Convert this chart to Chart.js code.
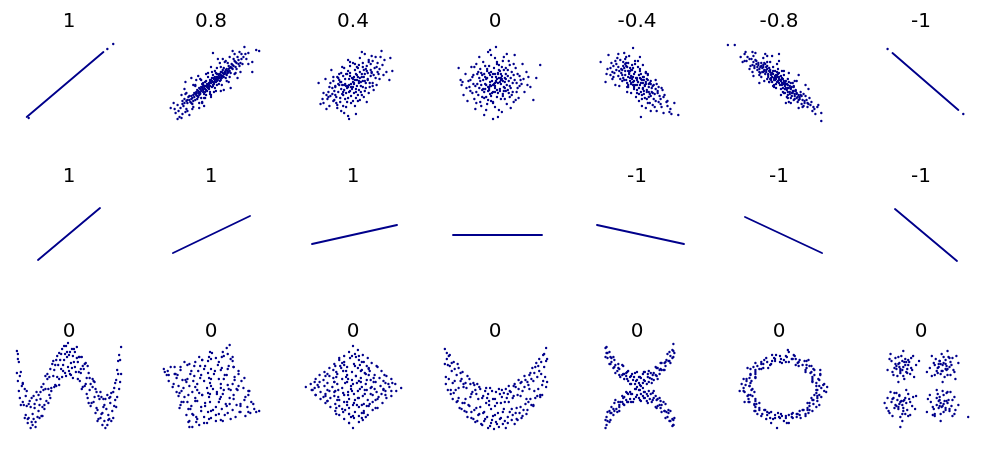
<!DOCTYPE html>
<html><head><meta charset="utf-8">
<script src="https://cdn.jsdelivr.net/npm/chart.js@4.4.0/dist/chart.umd.min.js"></script>
<style>
html,body{margin:0;padding:0;background:#fff;width:995px;height:452px;overflow:hidden;position:relative}
.cell{position:absolute;width:142px;height:155px}
canvas{display:block}
</style></head><body>
<script>
// ---- titles (correlation coefficients) ----
const titlesRow1 = ['1','0.8','0.4','0','-0.4','-0.8','-1'];
const titlesRow2 = ['1','1','1','','-1','-1','-1'];
const titlesRow3 = ['0','0','0','0','0','0','0'];

// ---- row 1 ----
const r1Line1 = [-4.3,-3.4, 3.5,3.1];
const r1Line1Dots = [3.9,3.4, 4.5,3.9, -4.1,-3.5];
const r1Cloud08 = [-0.2,-0.1,0.3,0.4,-0.6,-0.3,0.8,0.5,-1.1,-1.0,1.2,0.7,0.1,-0.4,-0.4,-0.8,0.5,0.1,-0.9,-0.4,1.5,1.3,-1.4,-1.3,0.9,0.9,-0.1,0.3,0.6,-0.2,-0.7,-1.1,1.9,1.2,-1.8,-1.2,2.2,1.8,-2.1,-1.9,0.2,0.8,-0.3,-0.2,1.0,0.3,-1.2,-0.5,1.6,0.8,-1.6,-1.7,2.5,1.6,-2.4,-2.0,0.4,-0.5,-0.5,0.2,1.3,1.5,-1.0,-1.5,2.8,2.3,-2.7,-1.6,0.0,0.0,0.7,0.9,-0.8,-0.9,1.1,1.1,-1.3,-0.8,1.8,1.7,-1.9,-2.1,2.0,1.0,-2.2,-1.3,3.0,2.0,-3.1,-2.5,0.3,-0.1,-0.2,-0.6,0.9,0.2,-0.6,0.1,1.4,0.9,-1.5,-0.9,2.4,2.2,-2.5,-2.6,3.3,2.6,-3.4,-2.2,0.1,0.5,-0.9,-0.1,1.7,1.0,-1.7,-1.0,2.6,1.4,-2.0,-1.6,3.5,2.9,-3.6,-3.0,0.6,0.6,-0.4,-0.4,1.2,1.3,-1.1,-0.6,2.1,1.5,-2.3,-1.4,0.5,1.0,-0.1,-0.9,1.5,0.5,-1.4,-1.6,2.9,1.7,-2.8,-2.3,4.2,2.1,4.6,3.3,4.9,3.2,4.2,1.1,-4.1,-2.5,-3.0,-3.5,-3.2,-3.4,3.8,3.0,3.1,2.9,-2.6,-1.1,2.3,2.4,1.0,1.6,-0.7,-1.5,0.8,-0.1,-0.3,0.6,1.9,0.6,-1.8,-2.4,2.7,2.6,-3.7,-2.6,0.2,-0.3,-1.2,-2.0,3.6,2.4,-0.5,-1.2,1.7,2.0,-2.9,-1.8,0.4,1.2,-0.8,0.0,1.4,2.1,-1.6,-0.3,2.4,0.9,-2.6,-2.9,3.2,1.9,0.0,-1.2,-0.9,-2.0];
const r1Cloud08b = [0.2,0.1,-0.1,-0.3,0.4,0.6,-0.5,-0.7,0.7,0.3,-0.8,-0.2,1.0,0.8,-1.0,-0.4,0.3,0.0,-0.3,-0.5,0.6,0.9,-0.6,-0.9,1.1,0.5,-1.2,-1.2,1.4,1.1,-1.4,-0.7,0.1,0.2,-0.2,0.0,0.8,0.8,-0.9,-0.6,1.6,1.4,-1.7,-1.4,1.3,0.6,-1.3,-1.0,2.0,1.6,-2.0,-1.3,0.5,0.4,-0.4,-0.1,0.9,0.5,-0.7,-0.5,1.8,1.4,-1.9,-1.5,2.3,1.7,-2.2,-1.7,0.0,0.3,0.6,0.2,-0.6,-0.6,1.2,1.0,-1.1,-1.1,1.5,1.0,-1.5,-1.2,2.6,2.0,-2.5,-1.8,0.4,0.2,-0.3,-0.3,1.0,1.1,-1.0,-0.8,1.7,1.2,-1.6,-1.1,2.1,1.9,-2.4,-1.7,0.2,-0.2,-0.1,0.1,0.7,0.6,-0.8,-0.7,1.3,0.9,-1.3,-1.4,1.9,1.5,-2.0,-2.0,2.8,1.9,-2.9,-2.1,0.9,0.6,-0.5,-0.3,1.1,0.7,-1.2,-0.9,2.2,1.4,-1.8,-1.8,3.1,2.4,-3.3,-2.8,0.3,0.5,-0.2,-0.4,1.5,1.2,-1.5,-1.0,2.5,2.1,-2.7,-2.0,0.6,0.4,-0.7,-0.3,1.8,1.1];
const r1Cloud08c = [-2.6,0.1,0.2,3.0,-1.5,0.3,1.0,-0.8,-0.5,0.9,0.5,-0.8,1.8,0.1,-1.8,-0.2,2.4,2.9,-2.4,-2.8,0.0,1.6,0.0,-1.4,1.2,2.4,-1.2,-2.5,3.0,1.1,-3.0,-1.2,0.7,2.4,-0.7,-2.3,2.0,-0.5,-2.0,0.5,1.5,2.2,-1.0,0.3,0.3,-0.9,-0.3,1.0,2.7,0.5,-2.7,-0.6,1.6,0.2,-1.6,-0.2,0.9,2.0,-0.9,-1.9,3.4,3.6,-3.4,-3.6,2.2,3.2,-2.2,-3.2,0.1,1.1,-0.1,-1.1,1.3,-0.7,-1.3,0.7,2.9,3.1,-2.9,-3.1,0.6,1.5,-0.6,-1.5,1.9,2.6,-1.9,-2.6,3.8,1.9,-3.8,-2.0,1.1,-0.2,-1.1,0.4,2.5,1.0,-2.5,-1.0];
const r1Cloud04 = [0.0,0.1,0.5,0.6,-0.5,-0.4,1.0,0.2,-1.0,-0.9,0.3,-0.6,-0.3,0.7,1.4,1.2,-1.4,-0.2,0.8,-0.3,-0.8,0.4,1.8,0.7,-1.8,-1.2,0.2,1.3,-0.2,-1.3,2.2,1.5,-2.1,-0.5,1.2,-0.8,-1.2,1.0,0.6,1.8,-0.6,-1.9,2.6,0.9,-2.6,-1.6,1.6,2.1,-1.6,0.6,0.1,-0.1,0.9,0.9,-0.9,-0.7,1.3,0.0,-1.3,-1.5,0.4,0.3,-0.4,-0.2,2.0,2.2,-2.0,0.2,1.1,-1.4,-1.1,1.6,3.0,1.8,-3.0,-1.0,0.7,2.5,-0.7,-2.4,2.4,-0.2,-2.4,-2.3,1.9,1.0,-1.9,-0.8,0.0,2.0,0.0,-1.8,1.5,0.4,-1.5,-0.1,0.3,0.9,-0.3,-0.8,2.8,2.6,-2.8,0.4,1.7,-0.4,-1.7,-2.0,0.5,-1.2,-0.5,1.2,1.0,1.6,-1.0,-1.2,2.3,0.5,-2.3,-1.3,3.4,1.1,-3.3,-2.1,1.2,2.9,-1.2,-2.8,3.7,0.3,-3.5,0.0,0.9,3.1,-0.4,-3.6,4.0,1.2,2.9,3.2,-2.2,1.3,0.2,-2.3,-0.1,0.5,0.6,0.0,-0.6,-0.3,1.3,1.4,-1.3,0.1,0.8,-0.9,-0.8,-1.6,1.8,1.9,-1.8,-0.4,2.1,-0.7,-2.5,-0.9,0.4,1.6,-0.2,-0.4,1.6,-1.0,-1.4,0.9,2.7,1.4,-2.7,-2.6,0.1,-1.0,3.2,2.3,-3.1,-1.6,1.9,2.7,-0.9,-3.0,0.7,-1.7,-0.7,0.9,2.5,2.0,-1.6,-2.5,1.1,0.6,-1.1,-0.2,3.8,2.5,-0.3,2.1,0.3,-3.1,-2.0,-1.8,1.4,-1.9,2.0,0.0,-0.5,-3.3];
const r1Cloud04b = [0.2,0.3,-0.2,-0.1,0.6,0.2,-0.6,-0.5,0.1,0.6,-0.1,-0.6,0.9,0.6,-0.9,-0.2,0.4,-0.3,-0.4,0.4,1.2,0.9,-1.2,-0.6,0.7,1.1,-0.7,-1.0,1.5,0.3,-1.5,-0.9,0.3,-0.9,-0.3,1.0,1.8,1.3,-1.8,-0.3,1.0,-0.4,-1.0,0.7,0.5,1.5,-0.5,-1.5,2.1,0.8,-2.1,-1.1,1.4,1.7,-1.4,0.3,0.0,0.4,0.0,-0.4,0.8,0.1,-0.8,-0.1,1.1,1.3,-1.1,-1.1,1.7,0.0,-1.7,-1.4,0.6,-0.7,-0.6,0.9,2.4,1.6,-2.4,-0.4,1.3,-0.5,-1.3,-1.9,0.2,1.9,-0.2,-2.0,2.0,-0.3,-2.0,0.6,1.6,2.3,-1.6,-2.2,0.9,-1.2,-0.9,1.5,2.7,0.4,-2.7,-1.2,0.4,0.8,-0.4,-0.9,1.2,0.2,-1.2,0.1,1.9,1.1,-1.9,-1.7,0.3,-1.5,-0.3,1.7,2.3,2.6,-2.3,0.0,1.0,2.0,-1.0,-2.3,3.1,0.8,-3.0,-2.0,0.1,0.0,0.7,0.5,-0.7,-0.3,1.5,1.0,-1.5,0.5,2.5,1.1,-2.5,-1.4,0.5,-1.8,-0.5,2.3];
const r1Cloud0 = [0.1,0.2,-0.4,-0.3,0.6,-0.1,-0.8,0.5,0.3,0.9,-0.2,-0.9,1.1,0.4,-1.2,-0.6,0.9,-0.8,-0.6,1.0,1.5,-0.3,-1.5,0.2,0.2,-1.4,-0.1,1.5,1.9,0.8,-1.9,-0.9,0.7,1.6,-0.7,-1.7,2.3,-0.5,-2.3,0.6,1.3,1.3,-1.3,-1.4,0.0,0.0,0.4,0.5,-0.5,0.1,0.8,0.2,-0.9,-0.2,1.7,-1.2,-1.7,1.1,0.5,-0.6,-0.3,0.6,2.6,0.3,-2.6,-0.4,1.0,-1.6,-1.0,1.7,0.2,2.1,-0.2,-2.0,2.1,1.5,-2.1,-1.6,3.0,-0.9,-3.0,0.9,1.4,2.2,-1.4,-2.3,0.6,0.9,-0.6,-0.7,1.2,-0.2,-1.2,0.3,2.4,-1.5,-2.4,1.6,0.9,2.6,-0.9,-2.7,3.4,0.6,-3.4,-0.2,1.8,0.0,-1.8,-0.1,0.3,-1.0,-0.4,1.1,2.8,1.9,-2.8,-1.8,0.1,3.6,-0.2,-3.6,4.6,1.8,-3.7,1.5,3.9,-1.7,1.6,-2.5,-1.6,2.6,0.7,-2.9,-0.7,3.1,2.0,2.8,-2.0,-2.6,0.0,-0.5,0.5,1.2,-0.5,-1.1,1.1,0.9,-1.1,-0.9,1.6,0.5,-1.6,-0.5,0.2,0.4,-0.2,-0.2,2.2,-0.9,-2.2,0.8,1.0,-0.5,-1.0,0.6,0.4,1.8,-0.4,-1.8,2.7,-0.1,-2.7,0.2,1.5,1.8,-1.5,-1.9,0.8,-1.3,-0.8,1.4,3.2,1.1,-3.2,-1.2,0.0,2.5,0.0,-2.4,2.5,0.7,-2.5,-0.8,1.9,-1.9,-1.9,1.9,0.6,0.3,-0.6,-0.4,1.3,-0.7,-1.3,0.8,3.6,-0.4,-3.5,0.3,1.2,2.9,-1.1,-3.2,4.2,0.5,-0.5,3.3,0.3,-3.4];
const r1Cloud0b = [0.3,0.0,-0.3,0.2,0.0,-0.3,0.1,0.6,0.7,0.4,-0.7,-0.4,0.5,-0.8,-0.5,0.8,1.0,0.1,-1.0,-0.1,0.2,-0.7,-0.2,0.9,1.3,0.7,-1.3,-0.7,0.8,-1.1,-0.8,1.2,1.6,-0.5,-1.6,0.5,0.4,1.3,-0.4,-1.3,2.0,0.3,-2.0,-0.3,1.1,1.5,-1.1,-1.5,0.6,-1.6,-0.6,1.7,2.3,0.9,-2.3,-1.0,1.5,-1.4,-1.5,1.4,0.1,0.1,-0.1,-0.1,0.9,-0.4,-0.9,0.4,0.3,1.0,-0.3,-1.0,1.4,0.2,-1.4,-0.2,0.7,0.7,-0.7,-0.8,1.8,-0.9,-1.8,0.9,0.2,1.9,-0.2,-1.9,2.5,-0.3,-2.5,0.3,1.2,-2.1,-1.2,2.1,2.9,0.4,-2.9,-0.5,0.5,0.1,-0.5,-0.2,0.0,0.9,0.0,-0.9,1.1,-0.8,-1.1,0.9,1.7,1.1,-1.7,-1.2,0.8,2.2,-0.8,-2.1,2.1,-1.7,-2.1,1.6,3.3,-0.2,-3.3,0.1,0.4,-2.7,-0.4,2.8,1.9,1.9,-1.9,-2.0,0.6,0.5,-0.6,-0.5,1.0,0.5,-1.0,-0.6,1.4,-1.0,-1.4,1.0,2.2,0.0,-2.2,-0.1,0.9,1.3,-0.9,-1.4];
const r1CloudM04 = [0.0,0.3,0.4,0.0,-0.4,0.6,0.8,-0.2,-0.8,0.9,0.2,-0.5,-0.2,1.1,1.2,-0.4,-1.2,0.8,0.6,0.6,-0.6,-0.1,1.5,-0.9,-1.5,1.3,0.3,1.2,-0.3,-0.6,1.0,0.4,-1.0,0.0,1.9,-0.6,-1.9,1.6,0.5,-1.2,-0.5,1.8,2.3,-1.3,-2.3,1.0,1.4,0.2,-1.4,2.1,0.1,0.1,0.7,-0.8,-0.7,1.5,1.7,-1.6,-1.7,0.4,0.9,1.0,-0.9,-0.4,2.6,-0.7,-2.6,2.0,0.2,-1.8,-0.2,2.2,1.1,-2.0,-1.1,0.3,2.0,-0.1,-2.0,2.5,0.4,0.9,-0.4,-0.2,1.3,-1.1,-1.3,1.5,3.0,-1.9,-3.0,1.4,0.8,-1.5,-0.8,2.7,1.8,-2.4,-1.8,-0.3,0.6,1.8,-0.6,-1.0,2.4,-2.1,-2.4,0.6,3.4,-2.6,-3.2,0.1,3.5,-3.1,4.2,-3.2,0.4,-3.4,-0.4,3.5,-3.7,2.1,-2.9,2.8,0.0,-0.2,0.3,0.5,-0.3,0.2,0.9,-0.1,-0.9,1.2,1.6,-0.3,-1.6,1.0,0.7,0.3,-0.7,0.5,1.2,-1.4,-1.2,2.4,2.1,-1.0,-2.1,1.9,0.5,-2.3,-0.5,1.3,1.4,-2.8,-1.0,-0.9,2.8,-1.2,-2.5,1.1,0.1,1.6,0.0,-1.0,1.0,-0.9,-1.5,0.2,2.2,-1.9,-0.9,2.0,1.9,0.3,-2.7,0.8,3.1,-2.3,0.9,-2.5,-1.3,3.0,2.5,-0.5,-0.1,-1.4,1.6,-2.2,-1.9,2.9,0.6,-0.5,-0.6,0.0,1.1,0.8,-1.1,1.7,3.8,-2.0,2.0,-2.8,-2.2,-0.2,0.3,2.6,1.3,0.0,2.7,-3.0];
const r1CloudM04b = [0.1,0.1,-0.1,0.5,0.5,0.3,-0.5,0.4,0.3,-0.2,-0.3,0.9,0.9,0.1,-0.9,0.6,0.6,-0.6,-0.6,1.3,1.2,-0.1,-1.2,1.2,0.2,0.8,-0.2,-0.2,1.0,-0.7,-1.0,1.6,0.7,0.6,-0.7,0.2,1.5,-0.5,-1.5,0.8,0.4,-0.9,-0.4,1.5,1.8,-1.1,-1.8,1.2,1.1,0.3,-1.1,2.0,0.0,0.5,0.8,-0.3,-0.8,1.0,1.4,-1.3,-1.4,1.7,2.1,-0.8,-2.1,1.3,0.3,1.4,-0.3,-0.4,1.7,-0.2,-1.7,2.3,0.5,-1.6,-0.5,0.6,2.4,-1.6,-2.4,1.7,1.3,-2.0,-1.3,0.3,0.9,1.1,-0.9,-0.2,2.7,-1.4,-2.7,1.5,0.6,0.0,-0.6,0.7,1.2,-0.9,-1.2,1.9,1.9,-1.8,-1.9,0.7,0.2,-1.1,-0.2,1.9,2.2,-0.4,-2.2,2.2,1.0,-1.6,-1.0,-0.4,3.1,-1.8,-3.1,0.9,0.1,2.2,0.4,0.4,-0.4,0.1,1.6,-1.0,-1.6,1.4,0.7,-1.1,-0.7,1.2,2.5,-2.4,-2.5,0.4,1.1,0.9,-1.1,2.6,0.0,-0.7,1.4,-0.1,-1.4,0.5,3.3,-2.9];
const r1CloudM08 = [0.1,0.3,0.5,0.2,-0.3,0.4,0.9,-0.5,-0.7,1.0,0.3,-0.2,-0.1,0.9,1.3,-0.4,-1.3,1.1,0.7,0.2,-0.5,0.3,1.6,-1.1,-1.6,1.8,0.2,0.7,-0.2,0.1,1.1,-0.9,-1.1,0.6,2.0,-1.2,-2.0,1.4,0.4,-0.5,-0.4,1.2,2.4,-1.7,-2.4,2.3,1.5,-0.3,-1.5,1.2,0.0,0.0,0.8,-0.7,-0.8,0.5,1.8,-1.5,-1.8,2.0,1.0,0.1,-1.0,1.5,2.7,-1.3,-2.7,1.8,0.6,-1.0,-0.6,1.6,1.2,-1.5,-1.2,0.4,2.2,-0.9,-2.2,1.6,0.5,0.8,-0.5,-0.2,1.4,-0.8,-1.4,1.9,3.0,-2.1,-3.0,2.4,0.9,-1.2,-0.9,1.3,1.9,-1.9,-1.9,1.0,0.7,-0.1,-0.7,0.1,2.5,-1.1,-2.5,1.5,3.3,-1.9,-3.3,2.2,3.6,-2.6,-3.5,2.9,4.3,-3.8,4.3,-3.0,3.9,-2.4,-5.2,3.8,-4.5,3.8,-3.4,3.1,-2.7,3.1,-1.4,2.9,0.0,2.9,-3.7,2.1,0.2,0.2,0.6,-0.6,-0.2,0.8,1.1,-0.3,-1.1,0.9,1.7,-0.8,-1.7,1.5,0.3,0.5,-0.3,-0.1,1.3,-1.3,-1.3,1.6,2.1,-1.6,-2.1,2.0,0.8,-0.1,-0.8,0.9,2.9,-2.4,-2.9,1.7,1.6,-1.6,-1.6,1.1,0.4,-0.9,-0.4,0.6,2.3,-2.1,-2.3,1.9,3.1,-1.5,-2.6,2.7,1.0,-1.9,-1.0,0.1,0.0,0.6,1.8,-1.0,-1.2,1.7,2.6,-2.0,-0.6,-0.3,1.4,0.0,3.7,-3.1,-3.9,2.6,0.9,0.4,2.0,-2.5,-2.0,0.8,-0.1,1.4,1.2,-0.5,4.0,-2.2,3.4,-2.8];
const r1CloudM08b = [0.0,0.4,0.4,0.0,-0.4,0.7,0.8,-0.1,-0.8,0.8,0.2,0.3,-0.2,0.6,1.2,-0.6,-1.2,1.4,0.6,-0.3,-0.6,0.9,1.5,-0.8,-1.5,1.3,0.3,0.0,-0.3,0.8,1.0,-0.5,-1.0,1.2,1.8,-1.1,-1.8,1.7,0.5,-0.1,-0.5,0.5,2.1,-1.4,-2.1,1.8,0.9,-0.2,-0.9,1.1,1.4,-1.0,-1.4,0.9,2.3,-1.3,-2.3,2.2,0.1,-0.2,-0.1,0.2,0.7,-0.5,-0.7,0.6,1.1,-1.1,-1.1,0.8,1.7,-0.7,-1.7,1.1,2.6,-1.8,-2.6,2.1,0.4,0.4,-0.4,0.3,1.3,-1.0,-1.3,1.3,1.9,-1.4,-1.9,1.6,2.8,-1.7,-2.8,2.4,0.6,0.0,-0.6,1.2,1.6,-1.3,-1.6,1.6,2.2,-1.2,-2.2,1.3,0.9,-0.9,-0.9,0.4,3.2,-2.2,-3.2,2.6,0.2,-0.6,-0.2,1.1,1.5,-0.4,-1.5,2.0,2.0,-1.7,-2.0,1.1,0.8,-1.4,-0.8,0.3,2.5,-2.3,-2.5,1.7,3.5,-2.4,-3.5,2.2,1.2,0.0,-1.2,2.1,2.9,-2.0,0.0,1.0,0.5,-1.0];
const r1CloudM08c = [-2.6,0.7,0.0,2.2,-1.5,0.2,1.0,1.0,-0.5,-0.4,0.5,1.2,1.8,0.2,-1.8,0.6,2.4,-2.4,-2.4,3.0,0.2,-1.2,-0.2,1.9,1.2,-2.0,-1.2,2.7,3.0,-0.6,-3.0,1.4,0.7,-2.0,-0.7,2.7,2.0,0.8,-2.0,0.0,1.5,-1.7,-1.0,0.1,0.3,1.2,-0.3,-0.5,2.7,-0.2,-2.7,1.1,1.6,0.2,-1.6,2.5,0.9,-1.5,-0.9,2.1];
const r1LineM1 = [-2.9,3.0, 3.8,-2.7];
const r1LineM1Dots = [-3.4,3.4, 4.3,-3.1];

// ---- row 2: straight lines (start x, start y, end x, end y) ----
const r2Line0 = [-3.1,-2.2, 3.1,3.0];
const r2Line1 = [-3.8,-1.5, 3.9,2.2];
const r2Line2 = [-4.1,-0.6, 4.4,1.3];
const r2Line3 = [-4.2,0.3, 4.7,0.3];
const r2Line4 = [-4.0,1.3, 4.7,-0.6];
const r2Line5 = [-3.4,2.1, 4.3,-1.5];
const r2Line6 = [-2.6,2.9, 3.6,-2.3];

// ---- row 3: non-linear relations ----
const r3Wave = [-5.3,4.2,-5.3,2.0,-5.2,3.9,-5.1,0.2,-5.0,1.7,-5.1,3.1,-4.8,0.7,-4.9,-1.2,-4.7,1.0,-4.6,-1.2,-4.5,0.4,-4.5,-2.5,-4.3,-1.3,-4.2,-2.6,-4.3,0.2,-4.0,-0.8,-4.1,-2.5,-3.9,-3.5,-3.7,-2.1,-3.8,-0.5,-3.7,-3.2,-3.5,-1.1,-3.4,-3.4,-3.5,-1.5,-3.2,-2.4,-3.3,0.1,-3.1,-1.8,-2.9,0.1,-3.0,-2.5,-2.9,-0.6,-2.7,-1.4,-2.6,0.9,-2.7,-2.3,-2.4,0.4,-2.5,-1.2,-2.4,1.7,-2.1,-1.0,-2.2,1.4,-2.1,0.4,-1.9,2.4,-1.8,0.5,-1.9,-0.5,-1.6,1.7,-1.6,3.2,-1.5,0.6,-1.3,0.7,-1.4,2.8,-1.3,3.3,-1.1,2.8,-1.0,0.8,-1.0,4.0,-0.8,2.4,-0.8,3.9,-0.7,1.6,-0.5,4.7,-0.6,2.2,-0.5,3.3,-0.3,1.7,-0.2,4.1,-0.3,4.7,0.0,3.8,0.0,2.2,-0.1,5.0,0.2,3.0,0.3,4.4,0.2,1.8,0.5,4.4,0.4,1.5,0.5,3.1,0.7,2.1,0.8,3.5,0.8,4.6,1.0,3.6,1.1,1.2,1.0,2.1,1.3,0.4,1.2,2.4,1.3,3.6,1.5,2.4,1.6,0.7,1.6,2.9,1.8,-0.1,1.9,2.7,1.8,1.5,2.1,1.5,2.0,-1.0,2.1,0.3,2.3,-1.0,2.4,1.4,2.4,0.6,2.6,1.1,2.7,-2.0,2.6,-0.4,2.9,-1.7,2.8,0.1,2.9,-2.8,3.1,-0.6,3.2,-2.5,3.2,0.1,3.4,-3.2,3.5,-1.4,3.4,-2.0,3.7,-0.6,3.7,-3.5,3.6,-1.2,4.0,-2.7,3.9,-0.2,4.0,-2.2,4.2,-1.0,4.3,-2.8,4.2,-0.4,4.5,-2.5,4.5,0.1,4.6,0.5,4.8,1.3,4.7,-0.7,4.8,-1.4,5.0,1.9,5.1,0.4,5.0,3.2,5.3,1.9,5.2,3.3,5.3,4.6];
const r3WaveB = [-5.2,1.2,-5.2,3.4,-4.9,2.1,-5.0,-0.5,-4.7,-0.9,-4.7,0.9,-4.4,-0.3,-4.4,-2.2,-4.1,-1.1,-4.2,-3.0,-3.9,-1.4,-3.8,-2.9,-3.6,-2.6,-3.6,-0.3,-3.3,-0.7,-3.4,-2.9,-3.1,-0.2,-3.0,-1.2,-2.8,-2.3,-2.8,0.6,-2.5,-1.6,-2.6,0.3,-2.3,-0.8,-2.2,1.9,-2.0,-0.2,-2.0,1.6,-1.7,2.9,-1.8,0.2,-1.5,2.3,-1.4,0.8,-1.2,1.6,-1.2,3.7,-0.9,3.3,-1.0,1.4,-0.7,4.4,-0.6,2.8,-0.4,2.0,-0.4,3.9,-0.1,2.6,-0.2,3.6,0.1,4.1,0.1,1.9,0.3,2.5,0.4,3.7,0.6,4.1,0.6,2.6,0.9,1.4,0.9,3.1,1.1,3.6,1.2,2.0,1.4,0.6,1.4,2.7,1.7,3.0,1.7,0.9,2.0,2.0,1.9,-0.5,2.2,0.9,2.2,-1.3,2.5,-0.9,2.5,1.2,2.8,-1.5,2.7,0.4,3.0,-0.3,3.0,-2.6,3.3,-2.1,3.3,-0.4,3.6,-2.8,3.5,-0.6,3.8,-1.6,3.9,-3.2,4.1,-0.5,4.1,-2.6,4.4,-1.8,4.3,0.0,4.6,-1.3,4.7,1.0,4.9,2.3,4.9,-0.4,5.2,1.1,5.1,3.8];
const r3Square = [-4.4,2.2,-4.1,2.6,-3.1,2.6,-2.7,3.1,-1.6,3.1,-1.2,3.6,-0.2,3.6,0.1,4.0,1.2,4.1,1.6,4.5,-4.5,1.8,-3.4,1.8,-3.1,2.3,-2.0,2.2,-1.7,2.7,-0.6,2.7,-0.3,3.2,0.8,3.1,1.1,3.6,2.2,3.6,-3.8,0.9,-3.5,1.5,-2.4,1.4,-2.1,1.9,-1.0,1.8,-0.7,2.4,0.4,2.2,0.7,2.8,1.8,2.7,2.2,3.2,-3.9,0.6,-2.8,0.5,-2.5,1.1,-1.4,0.9,-1.1,1.5,0.0,1.4,0.3,1.9,1.4,1.8,1.7,2.4,2.8,2.2,-3.3,-0.3,-3.0,0.2,-1.9,0.1,-1.6,0.6,-0.4,0.5,-0.1,1.0,1.0,0.9,1.3,1.4,2.4,1.3,2.8,1.9,-3.0,-0.9,-2.7,-0.4,-1.6,-0.5,-1.2,0.0,-0.1,-0.1,0.2,0.4,1.3,0.3,1.7,0.8,2.8,0.7,3.1,1.2,-3.1,-1.2,-2.0,-1.3,-1.6,-0.8,-0.6,-1.0,-0.2,-0.4,0.9,-0.6,1.2,-0.1,2.3,-0.2,2.7,0.3,3.8,0.2,-2.5,-2.2,-2.1,-1.6,-1.0,-1.8,-0.6,-1.3,0.5,-1.4,0.8,-0.9,1.9,-1.1,2.3,-0.6,3.4,-0.7,3.8,-0.2,-2.2,-2.8,-1.8,-2.2,-0.7,-2.4,-0.3,-1.9,0.8,-2.1,1.1,-1.6,2.2,-1.7,2.6,-1.2,3.7,-1.4,4.1,-0.9,-1.9,-3.4,-1.5,-2.9,-0.4,-3.0,0.0,-2.5,1.0,-2.7,1.4,-2.2,2.5,-2.4,2.9,-1.9,4.0,-2.0,4.4,-1.6,-3.7,1.9,-2.2,2.9,-0.9,3.3,0.5,3.5,1.7,3.9,-4.7,2.1,-3.2,0.0,-1.8,1.2,-0.3,2.0,1.0,2.3,2.3,2.6,-2.4,-0.9,-0.9,-0.2,0.6,0.1,2.0,0.3,3.3,0.5,-1.4,-2.6,0.2,-1.7,1.6,-1.3,3.0,-1.1,4.6,-1.9,-1.2,-3.2,0.5,-2.8,2.0,-2.6,3.5,-2.3,-4.8,2.4,1.9,4.8,4.9,-1.8,-2.2,-3.4,-2.6,1.3];
const r3SquareB = [-3.3,0.7,-0.9,3.3,2.6,0.4,-1.0,-1.4,0.8,1.4,-2.3,-2.9,2.0,3.4,-0.3,0.0,-3.7,2.6,3.0,-1.9,-1.7,1.7,-2.8,-0.9,1.5,-1.1,2.4,1.6,-0.7,-3.0,-1.1,2.7,3.9,0.2,-1.4,0.3,-0.1,4.1,-1.9,-2.1,-0.2,1.5,3.0,-1.3,-4.3,1.2,0.5,-2.2,1.3,3.7,-1.4,-0.8,1.0,0.5,-3.5,0.1,1.2,-2.8,2.3,2.6,-2.4,2.8,-2.3,-0.2,1.0,-0.4,1.1,2.5,-2.3,-1.6,-1.3,2.2,4.3,-1.1,-2.2,0.7,1.9,-0.5,0.0,0.7,2.2,0.9,0.0,-1.8,-3.6,1.9,0.0,2.4,3.4,1.5,-0.2,-2.6,-4.3,1.8,1.8,0.4,-0.1,-0.9,3.8,-1.9,-2.9,1.3,1.7,-2.0,-3.2,-1.5,0.0,3.4,-0.9,-0.2,3.5,-0.4,-0.7,1.2,-1.5,-2.4,1.6,1.8,0.6,-0.1];
const r3Diamond = [0.0,4.7,-0.4,4.1,0.5,4.3,-0.9,3.7,0.2,3.9,1.0,3.8,-1.4,3.3,-0.3,3.5,0.6,3.3,1.5,3.5,-1.9,2.9,-0.9,3.1,0.1,2.9,0.9,3.1,1.9,3.0,-2.4,2.5,-1.3,2.7,-0.6,2.6,0.5,2.5,1.4,2.7,2.5,2.6,-2.9,2.1,-2.0,2.3,-1.0,2.2,-0.1,2.1,0.9,2.3,1.7,2.2,2.9,2.2,-3.4,1.8,-2.4,1.7,-1.6,1.9,-0.6,1.8,0.3,1.7,1.3,1.9,2.2,1.8,3.4,1.7,-3.8,1.4,-3.0,1.3,-2.0,1.5,-1.1,1.4,-0.1,1.3,0.8,1.5,1.8,1.3,2.7,1.5,3.9,1.4,-4.3,0.9,-3.4,1.1,-2.6,1.0,-1.6,0.9,-0.6,1.1,0.4,1.0,1.3,0.9,2.3,1.1,3.3,1.0,4.3,0.9,-4.8,0.6,-3.9,0.5,-2.9,0.7,-2.1,0.6,-1.1,0.5,-0.2,0.7,0.9,0.6,1.8,0.5,2.8,0.7,3.7,0.6,4.9,0.5,-4.2,0.3,-3.3,0.1,-2.4,0.2,-1.5,0.3,-0.5,0.1,0.5,0.2,1.4,0.3,2.4,0.1,3.3,0.2,4.4,0.2,-3.8,-0.2,-2.8,-0.1,-1.9,-0.3,-0.9,-0.2,0.1,-0.1,1.0,-0.3,2.0,-0.2,2.9,-0.1,3.9,-0.3,-3.3,-0.6,-2.3,-0.5,-1.4,-0.7,-0.4,-0.6,0.6,-0.5,1.5,-0.7,2.5,-0.6,3.4,-0.5,-2.8,-1.0,-1.8,-1.1,-0.9,-0.9,0.1,-1.0,1.1,-1.1,2.0,-0.9,3.0,-1.0,-2.3,-1.4,-1.4,-1.3,-0.4,-1.5,0.6,-1.4,1.6,-1.3,2.5,-1.5,-1.8,-1.8,-0.8,-1.7,0.2,-1.9,1.1,-1.8,2.0,-1.7,-1.4,-2.2,-0.4,-2.1,0.6,-2.3,1.5,-2.2,-0.9,-2.6,0.1,-2.5,1.0,-2.7,-0.4,-3.0,0.6,-2.9,0.0,-3.5,-2.6,1.9,-1.2,2.5,0.3,3.6,1.2,2.0,2.1,1.1,3.6,0.9,-3.6,0.8,-1.8,0.2,-0.2,0.4,1.2,-0.1,2.6,-0.4,-2.6,-0.8,-1.1,-1.6,0.4,-1.2,1.7,-1.1,-0.2,-2.4,0.9,-2.0,-0.7,1.6,0.6,1.2,-1.5,-0.4,2.2,0.4,-0.9,2.8,0.7,2.8,-3.0,-0.4,3.1,0.3,-1.9,1.1,1.6,2.5,0.2,-0.7,-0.6,-1.2,1.3,-2.4];
const r3DiamondB = [-2.8,-0.3,-1.8,2.7,2.1,1.5,0.0,-1.2,0.3,1.7,-0.4,-3.0,0.6,3.7,-0.1,0.2,-3.9,1.1,3.3,-0.2,-1.9,1.1,-1.7,-1.5,1.8,-0.1,1.6,2.4,0.9,-2.5,-1.7,2.1,3.2,1.8,-1.0,0.0,-1.4,3.5,-0.4,-2.1,-0.5,1.4,3.1,0.4,-3.8,-0.2,1.4,-1.3,-0.1,3.7,-0.6,-0.9,0.8,1.1,-2.6,-0.8,2.3,-1.5,1.1,3.1,-2.8,1.7,-1.6,-0.7,1.2,0.3,0.2,2.7,-1.0,-1.9,-1.7,1.6,4.0,1.0,-1.9,0.1,1.9,0.6,0.0,0.9,1.6,1.8,0.9,-1.2,-3.5,0.6,-0.7,2.2,2.4,2.7,1.1,-2.0,-4.1,0.3,1.4,1.3,0.5,-0.5,3.9,0.2,-2.6,0.3,2.3,-0.7,-1.7,-2.1,-1.1,3.0,-0.5,-0.2,3.1,1.2,-0.8,1.0,0.0,-2.3,0.8,2.2,0.7,0.4];
const r3Parabola = [-5.1,4.4,-5.0,1.6,-5.1,2.9,-4.8,0.3,-4.9,3.4,-4.8,2.8,-4.6,2.7,-4.5,0.3,-4.6,3.8,-4.3,1.0,-4.4,3.0,-4.3,-0.6,-4.1,2.4,-4.0,0.3,-4.1,1.2,-3.8,-0.8,-3.8,2.9,-3.7,0.5,-3.5,1.2,-3.6,-1.5,-3.5,2.0,-3.3,-1.0,-3.2,0.6,-3.3,2.1,-3.0,1.0,-3.1,-1.8,-3.0,-0.6,-2.8,1.7,-2.7,-1.2,-2.8,-2.4,-2.5,-0.4,-2.5,0.9,-2.4,-1.9,-2.2,-2.6,-2.3,0.1,-2.2,1.0,-2.0,0.3,-1.9,-1.5,-2.0,-2.9,-1.7,-2.2,-1.8,0.9,-1.7,-0.6,-1.5,0.4,-1.4,-3.1,-1.5,-1.4,-1.2,-2.0,-1.2,-0.3,-1.1,-2.8,-0.9,0.5,-1.0,-2.6,-0.9,-1.0,-0.7,-3.5,-0.6,-0.8,-0.7,-0.1,-0.4,-1.6,-0.4,-3.0,-0.5,0.5,-0.2,-0.6,-0.1,-3.6,-0.2,-2.3,0.1,-2.9,0.1,0.1,0.0,-1.3,0.4,0.4,0.3,-2.0,0.4,-3.4,0.6,-2.5,0.7,-0.4,0.6,-1.0,0.9,0.0,0.8,-3.1,0.9,-1.6,1.1,-3.5,1.2,-0.5,1.1,0.4,1.4,-0.9,1.3,-2.4,1.4,0.7,1.7,-2.7,1.6,0.1,1.7,-1.6,1.9,0.7,2.0,-3.1,1.9,-0.3,2.2,-1.5,2.1,0.6,2.2,-2.6,2.4,0.4,2.5,-2.0,2.4,1.3,2.7,-2.5,2.6,-0.3,2.7,1.1,3.0,0.6,2.9,-1.7,3.0,1.7,3.2,-2.1,3.3,1.1,3.2,-0.6,3.5,1.8,3.4,-0.9,3.5,0.4,3.7,-1.2,3.8,2.5,3.7,1.4,4.0,2.0,3.9,-1.2,4.0,0.2,4.3,-0.3,4.2,3.0,4.3,1.6,4.5,3.4,4.6,-0.4,4.5,2.2,4.8,0.8,4.7,3.1,4.8,-0.2,5.0,3.9,5.1,1.6,5.0,2.6,5.3,1.1,5.2,4.5,5.3,3.4];
const r3ParabolaB = [-5.0,0.9,-4.9,4.0,-4.7,1.4,-4.7,3.7,-4.4,2.2,-4.5,-0.1,-4.2,3.1,-4.2,0.0,-3.9,1.8,-3.9,-0.9,-3.7,2.5,-3.7,-0.5,-3.4,-1.6,-3.4,1.4,-3.2,0.9,-3.1,-1.0,-2.9,-1.9,-2.9,0.5,-2.6,1.4,-2.6,-1.3,-2.4,-0.1,-2.4,-2.5,-2.1,-1.7,-2.1,0.8,-1.9,-0.1,-1.8,-2.8,-1.6,-2.1,-1.6,0.6,-1.3,-0.5,-1.3,-3.2,-1.1,-1.9,-1.0,0.2,-0.8,-2.4,-0.8,-0.5,-0.6,-1.2,-0.5,-3.3,-0.3,0.2,-0.3,-2.7,0.0,-0.6,0.0,-2.2,0.2,-3.1,0.2,-1.0,0.5,-0.1,0.5,-2.6,0.8,-1.9,0.7,0.3,1.0,-2.8,1.0,-0.9,1.3,-0.1,1.3,-3.0,1.5,-1.9,1.5,0.2,1.8,-2.2,1.8,-0.5,2.0,0.9,2.1,-2.0,2.3,-0.2,2.3,-2.7,2.6,-1.4,2.6,1.0,2.8,-2.3,2.8,0.2,3.1,1.3,3.1,-1.1,3.3,-1.7,3.4,0.8,3.6,2.0,3.6,-0.6,3.9,-1.3,3.9,1.2,4.1,2.6,4.1,-0.5,4.4,0.4,4.4,2.7,4.6,-0.2,4.7,1.9,4.9,3.8,4.9,1.2,5.2,0.6,5.2,3.2];
const r3Cross = [-3.2,3.6,-3.2,4.5,-3.0,4.0,-3.0,3.5,-2.8,4.1,-2.8,2.9,-2.6,3.1,-2.6,3.5,-2.4,2.5,-2.4,3.6,-2.2,2.8,-2.2,2.0,-1.9,2.9,-2.0,2.2,-1.7,1.6,-1.8,2.4,-1.5,2.8,-1.5,1.8,-1.3,1.9,-1.3,1.4,-1.1,2.0,-1.1,1.7,-0.9,1.2,-0.9,2.2,-0.7,1.6,-0.7,0.9,-0.5,1.9,-0.4,1.3,-0.2,0.9,-0.3,1.6,0.0,2.1,0.0,1.3,0.2,1.0,0.2,1.6,0.4,1.5,0.4,0.7,0.6,1.9,0.6,1.0,0.8,1.2,0.8,2.1,1.0,0.9,1.1,1.6,1.2,2.2,1.3,1.5,1.5,1.4,1.4,2.0,1.7,2.0,1.7,1.3,1.9,2.6,1.9,1.8,2.1,1.4,2.1,2.5,2.3,2.3,2.3,1.9,2.5,3.0,2.5,2.3,2.7,2.3,2.8,3.0,3.0,3.3,2.9,2.7,3.2,3.2,3.1,3.9,3.4,3.0,3.4,3.7,3.6,4.3,3.6,3.5,3.8,4.0,3.7,4.9,-3.2,-2.7,-3.2,-3.5,-3.0,-2.8,-3.0,-1.9,-2.8,-1.8,-2.8,-2.9,-2.6,-2.0,-2.6,-1.4,-2.4,-2.2,-2.4,-1.6,-2.2,-0.7,-2.1,-1.6,-2.0,-1.9,-1.9,-0.9,-1.7,-0.9,-1.8,-1.4,-1.5,-0.3,-1.5,-0.9,-1.3,-1.2,-1.3,-0.4,-1.1,-0.7,-1.1,0.1,-0.9,-0.1,-0.9,-0.9,-0.7,-0.6,-0.7,0.1,-0.5,-0.1,-0.4,-0.9,-0.3,-0.6,-0.2,0.4,0.0,-0.2,0.0,0.6,0.2,0.3,0.2,-0.5,0.4,-0.8,0.4,-0.1,0.6,0.5,0.6,-0.3,0.8,-0.5,0.8,0.1,1.0,-0.1,1.0,-0.8,1.2,0.2,1.3,-0.6,1.5,-0.9,1.4,-0.1,1.7,-0.5,1.7,0.2,1.9,-1.4,1.9,-0.3,2.1,-0.6,2.1,-1.3,2.3,-1.2,2.3,-0.5,2.5,-1.9,2.5,-1.2,2.7,-0.9,2.8,-1.8,3.0,-1.9,2.9,-2.5,3.2,-1.7,3.1,-2.4,3.4,-2.8,3.4,-1.8,3.6,-2.6,3.6,-3.3,3.8,-2.5,3.7,-3.2];
const r3CrossB = [-3.1,4.0,-3.1,4.6,-2.7,2.9,-2.7,3.6,-2.3,3.3,-2.3,2.6,-1.8,1.8,-1.9,2.5,-1.4,2.7,-1.4,1.9,-1.0,1.4,-1.0,2.1,-0.6,1.7,-0.6,0.9,-0.1,1.2,-0.2,2.0,0.3,1.6,0.3,0.8,0.7,1.3,0.7,2.1,1.1,1.9,1.2,1.1,1.6,1.8,1.5,1.0,2.0,1.7,2.0,2.5,2.4,3.0,2.4,2.4,2.8,2.3,2.9,3.1,3.3,3.2,3.3,4.1,3.7,4.2,3.7,3.6,-3.1,-2.4,-3.1,-3.2,-2.7,-2.7,-2.7,-2.0,-2.3,-1.0,-2.3,-1.8,-1.8,-1.2,-1.8,-1.8,-1.4,-0.5,-1.4,-1.1,-1.0,-0.9,-1.0,0.0,-0.6,-0.1,-0.6,-0.9,-0.1,-0.4,-0.1,0.4,0.3,0.3,0.3,-0.7,0.7,-0.5,0.7,0.1,1.1,-0.3,1.1,-1.0,1.6,0.0,1.6,-0.7,2.0,-1.5,2.0,-0.7,2.4,-0.8,2.4,-1.5,2.8,-1.8,2.9,-1.1,3.3,-2.8,3.2,-2.0,3.7,-2.7,3.7,-3.2];
const r3Ring = [3.8,0.3,4.3,0.5,4.1,0.7,4.6,0.9,3.8,1.0,3.4,1.1,4.0,1.4,3.4,1.4,4.2,1.8,3.6,1.8,4.2,2.3,3.2,2.0,3.5,2.4,2.7,2.1,3.3,2.7,2.8,2.5,2.8,2.8,3.0,3.3,2.6,3.2,2.0,2.7,2.0,3.1,1.7,2.8,1.7,3.4,1.6,3.7,1.3,3.4,1.0,3.1,1.0,4.1,0.7,3.7,0.5,3.3,0.3,3.0,0.1,3.1,-0.3,3.8,-0.4,3.4,-0.7,3.8,-0.7,3.2,-0.8,2.9,-1.2,3.1,-1.5,3.3,-1.1,2.5,-1.8,2.9,-1.6,2.5,-2.4,3.0,-2.0,2.4,-2.6,2.6,-2.4,2.3,-3.2,2.5,-2.4,1.9,-2.9,1.9,-2.4,1.5,-3.0,1.5,-3.3,1.4,-3.3,1.2,-2.9,1.0,-3.8,0.9,-3.0,0.7,-3.6,0.5,-2.7,0.4,-3.5,0.1,-2.5,0.1,-3.1,-0.2,-2.7,-0.3,-3.1,-0.6,-3.5,-0.9,-3.0,-0.9,-2.4,-0.8,-2.5,-1.1,-2.0,-1.0,-2.4,-1.4,-2.5,-1.8,-2.0,-1.7,-2.2,-2.1,-1.5,-1.7,-1.8,-2.3,-1.2,-1.9,-1.2,-2.2,-0.8,-1.9,-0.9,-2.5,-0.8,-3.0,-0.4,-2.5,-0.1,-2.0,0.0,-2.4,0.3,-2.3,0.5,-2.8,0.7,-2.5,1.0,-3.0,1.0,-2.2,1.3,-2.4,1.4,-2.0,1.8,-2.4,1.8,-2.1,2.1,-2.2,2.1,-1.8,2.7,-2.3,2.5,-1.7,3.0,-2.0,2.9,-1.7,3.4,-1.8,3.1,-1.3,2.9,-1.0,3.5,-1.1,4.1,-1.2,3.4,-0.7,3.3,-0.5,3.9,-0.5,4.3,-0.4,4.1,-0.2,3.8,0.0,4.8,0.1,-0.2,-3.5,4.9,0.6,-4.0,0.2,0.9,4.3];
const r3RingB = [3.8,0.7,4.5,0.8,4.1,1.3,3.4,1.2,3.4,1.6,4.2,1.9,3.6,2.3,3.3,2.1,2.7,2.3,3.1,2.7,2.8,3.2,2.4,2.8,1.9,3.0,2.1,3.3,1.4,3.4,1.5,3.8,0.7,3.1,0.8,3.6,0.1,3.7,0.2,3.4,-0.4,3.2,-0.5,3.5,-1.3,3.5,-0.9,2.8,-1.6,2.9,-1.8,3.1,-2.2,2.7,-1.8,2.4,-2.4,2.1,-2.9,2.4,-2.9,1.8,-2.4,1.6,-2.8,1.2,-3.6,1.4,-3.4,0.8,-3.0,0.7,-2.8,0.3,-3.6,0.2,-3.2,-0.3,-2.9,-0.2,-2.4,-0.6,-3.1,-0.9,-2.5,-1.2,-2.3,-1.1,-2.4,-1.8,-2.0,-1.5,-1.4,-1.7,-1.7,-2.1,-1.3,-2.6,-1.0,-2.0,-0.4,-2.2,-0.6,-2.6,0.1,-2.5,0.2,-2.1,0.7,-2.3,0.8,-3.0,1.4,-2.5,1.3,-2.1,1.9,-2.1,2.2,-2.5,2.7,-2.1,2.4,-1.7,2.9,-1.5,3.1,-1.7,3.8,-1.4,3.1,-1.0,3.5,-0.7,3.9,-0.8,3.9,-0.3,3.6,-0.2,3.9,0.3,4.6,0.2];
const r3Clusters = [-1.8,2.6,-2.3,2.9,-1.4,2.4,-2.1,2.0,-1.2,3.1,-2.7,2.5,-1.6,3.4,-2.4,1.7,-0.9,2.3,-3.0,3.2,-1.7,1.4,-2.0,3.7,-1.0,3.5,-2.8,1.8,-0.5,2.8,-3.4,2.3,-1.5,2.1,-2.2,3.0,-1.3,2.8,-2.5,2.7,-1.9,2.3,-1.7,3.1,-2.1,2.4,-0.7,1.6,-3.1,3.9,-1.1,1.9,-2.6,3.5,-1.8,4.2,-2.3,1.1,-0.2,3.2,2.2,2.8,2.7,2.4,1.8,2.9,2.5,3.3,1.6,2.2,3.1,2.8,2.0,1.9,2.8,3.6,1.3,3.0,3.4,2.1,2.1,3.9,2.4,1.6,1.4,1.8,3.2,3.5,0.9,2.5,3.8,3.0,1.9,3.2,2.6,2.3,1.7,2.5,2.9,2.6,2.3,3.0,2.1,2.2,2.5,2.9,1.1,3.7,3.5,1.4,1.5,3.4,3.0,1.8,2.2,1.1,2.7,4.2,0.6,2.1,-1.9,-1.2,-2.4,-0.7,-1.5,-1.0,-2.7,-1.5,-1.8,-1.8,-2.2,-0.3,-1.2,-0.6,-3.0,-0.9,-1.6,-2.1,-2.5,0.0,-0.9,-1.3,-3.3,-1.8,-2.1,-2.4,-1.3,-0.1,-3.1,0.1,-0.6,-1.6,-3.7,-1.0,-2.0,-0.8,-2.3,-1.4,-1.7,-0.7,-2.6,-1.2,-1.8,-1.5,-2.2,-1.1,-1.1,-2.2,-2.9,-2.3,-1.5,0.3,-3.4,-0.5,-1.9,-2.8,-0.5,-0.3,-2.8,-0.5,-2.1,-3.4,2.0,-1.0,2.5,-1.5,1.6,-1.2,2.8,-0.7,1.9,-0.4,2.3,-1.9,1.3,-1.6,3.1,-1.3,1.7,-0.1,2.6,0.0,1.0,-0.9,3.4,-0.4,2.2,0.2,1.4,-2.1,3.2,-2.3,0.7,-0.6,3.8,-1.2,2.1,-1.4,2.4,-0.8,1.8,-1.5,2.7,-1.0,1.9,-0.7,2.3,-1.1,1.2,-2.2,3.0,0.1,1.6,0.3,3.5,-1.7,2.0,-2.8,0.6,-1.9,2.9,-1.8,4.8,-2.4];
const r3ClustersB = [-1.6,2.8,-2.1,2.2,-1.3,3.3,-2.6,2.9,-1.8,1.7,-2.3,3.6,-1.0,2.5,-2.9,2.1,-1.5,3.1,-2.2,2.6,-1.9,3.2,-2.5,2.4,-1.4,2.0,-0.8,3.7,-3.2,3.4,2.0,2.9,2.5,2.4,1.7,2.0,3.0,3.1,2.3,3.6,2.7,1.8,1.4,2.8,3.3,2.3,1.9,3.2,2.6,2.7,2.2,2.2,2.9,3.5,1.8,2.6,1.1,1.7,3.6,3.7,-1.8,-0.8,-2.5,-1.3,-1.4,-1.7,-2.9,-0.6,-1.9,-2.1,-2.2,-0.2,-1.1,-0.9,-3.2,-2.0,-1.6,-0.5,-2.3,-1.6,-2.1,-0.9,-2.7,0.0,-1.3,-2.3,-0.8,-0.4,-3.5,-1.5,1.9,-1.3,2.6,-0.8,1.6,-0.5,2.9,-1.6,2.3,-0.2,2.0,-2.1,3.2,-0.7,1.2,-1.4,2.5,-1.7,1.8,-0.8,2.2,-1.3,2.7,0.1,1.4,-2.3,3.4,-2.1,0.9,-0.2];

// ---- table of panels built from the arrays above ----
const panels = [
  {r:0,c:0,t:titlesRow1[0],line:r1Line1,dots:r1Line1Dots},
  {r:0,c:1,t:titlesRow1[1],dots:r1Cloud08.concat(r1Cloud08b,r1Cloud08c)},
  {r:0,c:2,t:titlesRow1[2],dots:r1Cloud04.concat(r1Cloud04b)},
  {r:0,c:3,t:titlesRow1[3],dots:r1Cloud0.concat(r1Cloud0b)},
  {r:0,c:4,t:titlesRow1[4],dots:r1CloudM04.concat(r1CloudM04b)},
  {r:0,c:5,t:titlesRow1[5],dots:r1CloudM08.concat(r1CloudM08b,r1CloudM08c)},
  {r:0,c:6,t:titlesRow1[6],line:r1LineM1,dots:r1LineM1Dots},
  {r:1,c:0,t:titlesRow2[0],line:r2Line0},
  {r:1,c:1,t:titlesRow2[1],line:r2Line1},
  {r:1,c:2,t:titlesRow2[2],line:r2Line2},
  {r:1,c:3,t:titlesRow2[3],line:r2Line3},
  {r:1,c:4,t:titlesRow2[4],line:r2Line4},
  {r:1,c:5,t:titlesRow2[5],line:r2Line5},
  {r:1,c:6,t:titlesRow2[6],line:r2Line6},
  {r:2,c:0,t:titlesRow3[0],dots:r3Wave.concat(r3WaveB)},
  {r:2,c:1,t:titlesRow3[1],dots:r3Square.concat(r3SquareB)},
  {r:2,c:2,t:titlesRow3[2],dots:r3Diamond.concat(r3DiamondB)},
  {r:2,c:3,t:titlesRow3[3],dots:r3Parabola.concat(r3ParabolaB)},
  {r:2,c:4,t:titlesRow3[4],dots:r3Cross.concat(r3CrossB)},
  {r:2,c:5,t:titlesRow3[5],dots:r3Ring.concat(r3RingB)},
  {r:2,c:6,t:titlesRow3[6],dots:r3Clusters.concat(r3ClustersB)}
];

const COLOR = '#00008b';
function pairs(a){const out=[];for(let i=0;i+1<a.length;i+=2)out.push({x:a[i],y:a[i+1]});return out;}

panels.forEach(p=>{
  const div=document.createElement('div');
  div.className='cell';
  div.style.left=(142*p.c-2)+'px';
  div.style.top=(155*p.r)+'px';
  const cv=document.createElement('canvas');
  cv.width=142;cv.height=155;
  cv.style.width='142px';cv.style.height='155px';
  div.appendChild(cv);
  document.body.appendChild(div);
  const datasets=[];
  if(p.line){
    datasets.push({type:'line',data:pairs(p.line),showLine:true,borderColor:COLOR,borderWidth:1.9,
      pointRadius:0,pointHoverRadius:0,fill:false,tension:0,clip:false,borderCapStyle:'round'});
  }
  if(p.dots){
    datasets.push({type:'scatter',data:pairs(p.dots),pointRadius:1.2,pointHoverRadius:1.2,
      backgroundColor:COLOR,borderWidth:0,clip:false});
  }
  new Chart(cv,{
    type:'scatter',
    data:{datasets},
    options:{
      responsive:false,animation:false,events:[],
      layout:{padding:{top:0,bottom:22,left:0,right:0}},
      plugins:{
        legend:{display:false},tooltip:{enabled:false},
        title:{display:true,text:p.t,color:'#000',align:'center',
          font:{family:'"DejaVu Sans", sans-serif',size:20,weight:'normal',lineHeight:1.1},
          padding:{top:11,bottom:0}}
      },
      scales:{
        x:{type:'linear',min:-7.1,max:7.1,display:false},
        y:{type:'linear',min:-5,max:5,display:false}
      }
    }
  });
});
</script>
</body></html>
